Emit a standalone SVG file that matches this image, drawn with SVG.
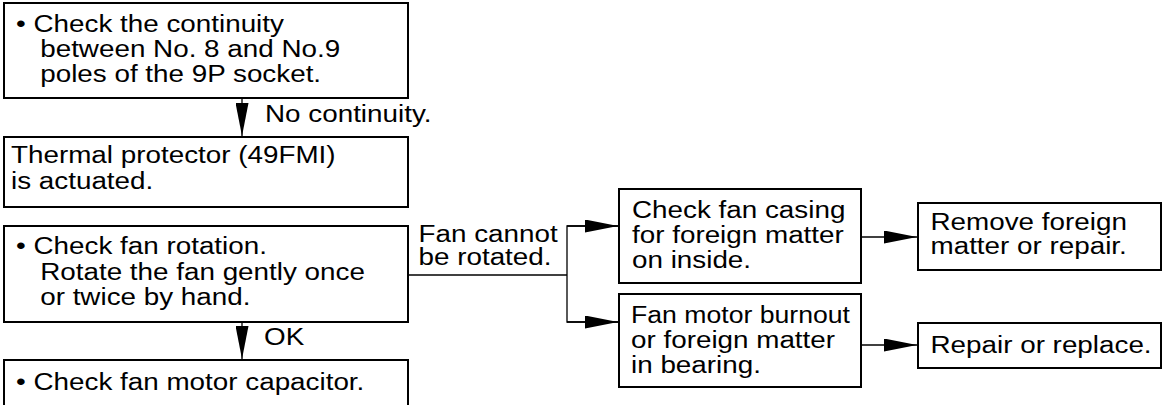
<svg xmlns="http://www.w3.org/2000/svg" width="1162" height="405" viewBox="0 0 1162 405">
  <style>
    .box { fill: #fff; stroke: #000; stroke-width: 2; }
    .wire { fill: none; stroke: #000; stroke-width: 1.3; }
    .lbl { font-family: "Liberation Sans", Arial, Helvetica, sans-serif; font-size: 23px; fill: #000; }
  </style>
  <defs>
    <marker id="head" markerUnits="userSpaceOnUse" markerWidth="33" markerHeight="13" refX="33" refY="6.5" orient="auto">
      <path d="M0,0 L33,6.5 L0,13 z" fill="#000"/>
    </marker>
  </defs>

  <rect width="1162" height="405" fill="#fff"/>

  <!-- connectors -->
  <g id="connectors">
    <line class="wire" x1="242" y1="98" x2="242" y2="136" marker-end="url(#head)"/>
    <line class="wire" x1="242" y1="322" x2="242" y2="359" marker-end="url(#head)"/>
    <polyline class="wire" points="408,275 567,275"/>
    <polyline class="wire" points="619,226 567,226 567,322 619,322"/>
    <line class="wire" x1="567" y1="226" x2="618" y2="226" marker-end="url(#head)"/>
    <line class="wire" x1="567" y1="322" x2="618" y2="322" marker-end="url(#head)"/>
    <line class="wire" x1="861" y1="237" x2="917" y2="237" marker-end="url(#head)"/>
    <line class="wire" x1="861" y1="345" x2="917" y2="345" marker-end="url(#head)"/>
    <text class="lbl" transform="translate(265,0) scale(1.21 1)"><tspan x="0" y="122">No continuity.</tspan></text>
    <text class="lbl" transform="translate(264,0) scale(1.21 1)"><tspan x="0" y="345">OK</tspan></text>
    <text class="lbl" transform="translate(418.5,0) scale(1.21 1)"><tspan x="0" y="242">Fan cannot</tspan><tspan x="0" y="265">be rotated.</tspan></text>
  </g>

  <!-- continuity check -->
  <g id="n-continuity">
    <rect class="box" x="4" y="3" width="404" height="95"/>
    <text class="lbl" transform="translate(16,0) scale(1.21 1)"><tspan x="0" y="32">• Check the continuity</tspan><tspan x="20" y="57">between No. 8 and No.9</tspan><tspan x="20" y="82">poles of the 9P socket.</tspan></text>
  </g>

  <!-- thermal protector -->
  <g id="n-thermal">
    <rect class="box" x="4" y="137" width="404" height="70"/>
    <text class="lbl" transform="translate(11,0) scale(1.21 1)"><tspan x="0" y="163">Thermal protector (49FMI)</tspan><tspan x="0" y="189">is actuated.</tspan></text>
  </g>

  <!-- fan rotation -->
  <g id="n-rotation">
    <rect class="box" x="4" y="226" width="404" height="96"/>
    <text class="lbl" transform="translate(16,0) scale(1.21 1)"><tspan x="0" y="254">• Check fan rotation.</tspan><tspan x="20" y="280">Rotate the fan gently once</tspan><tspan x="20" y="305">or twice by hand.</tspan></text>
  </g>

  <!-- capacitor -->
  <g id="n-capacitor">
    <rect class="box" x="4" y="360" width="404" height="70"/>
    <text class="lbl" transform="translate(16,0) scale(1.21 1)"><tspan x="0" y="390">• Check fan motor capacitor.</tspan></text>
  </g>

  <!-- fan casing -->
  <g id="n-casing">
    <rect class="box" x="619" y="189" width="242" height="94"/>
    <text class="lbl" transform="translate(632,0) scale(1.21 1)"><tspan x="0" y="218">Check fan casing</tspan><tspan x="0" y="243">for foreign matter</tspan><tspan x="0" y="268">on inside.</tspan></text>
  </g>

  <!-- motor burnout -->
  <g id="n-burnout">
    <rect class="box" x="619" y="294" width="242" height="93"/>
    <text class="lbl" transform="translate(631,0) scale(1.21 1)"><tspan x="0" y="323" textLength="181" lengthAdjust="spacingAndGlyphs">Fan motor burnout</tspan><tspan x="0" y="348">or foreign matter</tspan><tspan x="0" y="373">in bearing.</tspan></text>
  </g>

  <!-- remove foreign matter -->
  <g id="n-remove">
    <rect class="box" x="918" y="203" width="243" height="67"/>
    <text class="lbl" transform="translate(930.5,0) scale(1.21 1)"><tspan x="0" y="230">Remove foreign</tspan><tspan x="0" y="254.5">matter or repair.</tspan></text>
  </g>

  <!-- repair or replace -->
  <g id="n-replace">
    <rect class="box" x="918" y="323" width="243" height="45"/>
    <text class="lbl" transform="translate(930.5,0) scale(1.21 1)"><tspan x="0" y="353">Repair or replace.</tspan></text>
  </g>
</svg>
